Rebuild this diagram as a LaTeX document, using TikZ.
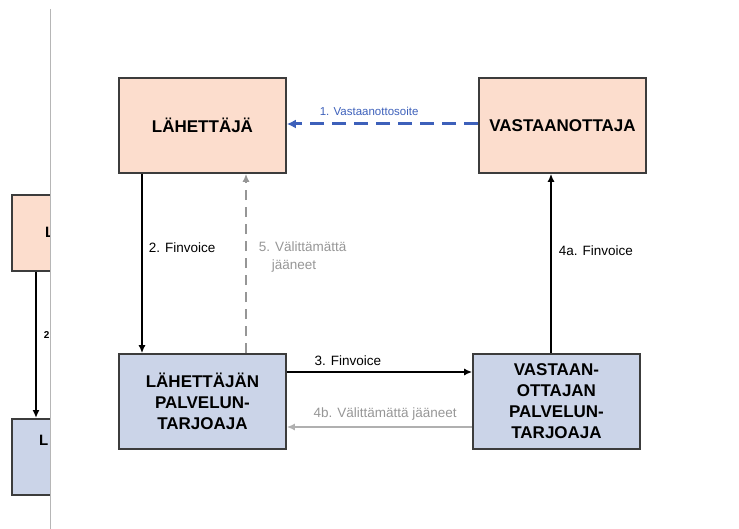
\documentclass[tikz,border=0pt]{standalone}
\usepackage{fontspec}
\setmainfont{Liberation Sans}
\usetikzlibrary{positioning, arrows.meta}
\definecolor{peach}{RGB}{252,221,205}
\definecolor{lavender}{RGB}{203,212,232}
\definecolor{frame}{RGB}{60,60,60}
\definecolor{navy}{RGB}{61,96,186}
\definecolor{ash}{RGB}{150,150,150}

\begin{document}
\begin{tikzpicture}[
  x=1pt, y=-1pt,
  party/.style={
    draw=frame,
    line width=1.6pt,
    fill=peach,
    minimum width=167pt,
    minimum height=95pt,
    inner sep=0pt,
    align=center,
    font=\fontsize{17}{21}\selectfont\bfseries
  },
  bank/.style={party, fill=lavender},
  tag/.style={inner sep=0pt, font=\fontsize{13.5}{18}\selectfont},
  flow/.style={line width=1.6pt, -{Latex[length=8pt,width=7pt]}}
]
\useasboundingbox (0,0) rectangle (739,529);

% cut-off copy on the left
\begin{scope}
  \clip (0,0) rectangle (50,529);
  \node[party, minimum width=120pt, minimum height=76pt, anchor=north west] (ghostsender) at (11,194) {};
  \node[bank, minimum width=120pt, minimum height=76pt, anchor=north west] (ghostop) at (11,418) {};
  \node[anchor=west, inner sep=0pt, font=\fontsize{15}{18}\selectfont\bfseries] (ghostsendertext) at (45,232) {L};
  \node[anchor=west, inner sep=0pt, font=\fontsize{15}{18}\selectfont\bfseries] (ghostoptext) at (39,440) {L};
  \draw[flow] (ghostsender.south -| 36,0) -- (ghostop.north -| 36,0)
    node[pos=0.43, anchor=west, xshift=7pt, inner sep=0pt, font=\fontsize{10}{12}\selectfont\bfseries] (ghostlabel) {2};
\end{scope}
\coordinate (divtop) at (50,9);
\coordinate (divbottom) at (50,529);
\draw[ash!70, line width=1pt] (divtop) -- (divbottom);

% parties
\node[party] (sender) at (202.5,125.5) {LÄHETTÄJÄ};
\node[party] (receiver) at (562.5,125.5) {VASTAANOTTAJA};
\node[bank] (senderop) at (202.5,401.5) {LÄHETTÄJÄN\\PALVELUN-\\TARJOAJA};
\node[bank] (receiverop) at (556.5,401.5) {VASTAAN-\\OTTAJAN\\PALVELUN-\\TARJOAJA};

% flows
\draw[navy, line width=3pt, dash pattern=on 14pt off 8pt, -{Latex[length=9pt,width=9pt]}]
  ([yshift=1.5pt]receiver.west) -- ([yshift=1.5pt]sender.east)
  node[pos=0.57, above=7pt, inner sep=0pt, text=navy, font=\fontsize{11.5}{14}\selectfont] (notice) {1. Vastaanottosoite};

\draw[flow] ([xshift=-60.5pt]sender.south) -- ([xshift=-60.5pt]senderop.north)
  node[tag, pos=0.414, anchor=west, xshift=6pt] (invoice2) {2. Finvoice};

\draw[ash, line width=1.6pt, dash pattern=on 10pt off 7pt, -{Latex[length=8pt,width=7pt]}]
  ([xshift=43.5pt]senderop.north) -- ([xshift=43.5pt]sender.south)
  node[tag, pos=0.625, anchor=north west, xshift=12pt, align=left, text=ash] (leftover5) {5. Välittämättä\\\hspace{13pt}jääneet};

\draw[flow] ([yshift=29.5pt]senderop.east) -- ([yshift=29.5pt]receiverop.west)
  node[tag, pos=0.33, above=6pt] (invoice3) {3. Finvoice};

\draw[ash!75, line width=1.6pt, -{Latex[length=8pt,width=7pt]}]
  ([yshift=-25.5pt]receiverop.west) -- ([yshift=-25.5pt]senderop.east)
  node[tag, pos=0.47, above=6pt, text=ash] (leftover4b) {4b. Välittämättä jääneet};

\draw[flow] ([xshift=-5.5pt]receiverop.north) -- ([xshift=-5.5pt]receiverop.north |- receiver.south)
  node[tag, pos=0.57, anchor=west, xshift=7pt] (invoice4a) {4a. Finvoice};

\end{tikzpicture}
\end{document}
